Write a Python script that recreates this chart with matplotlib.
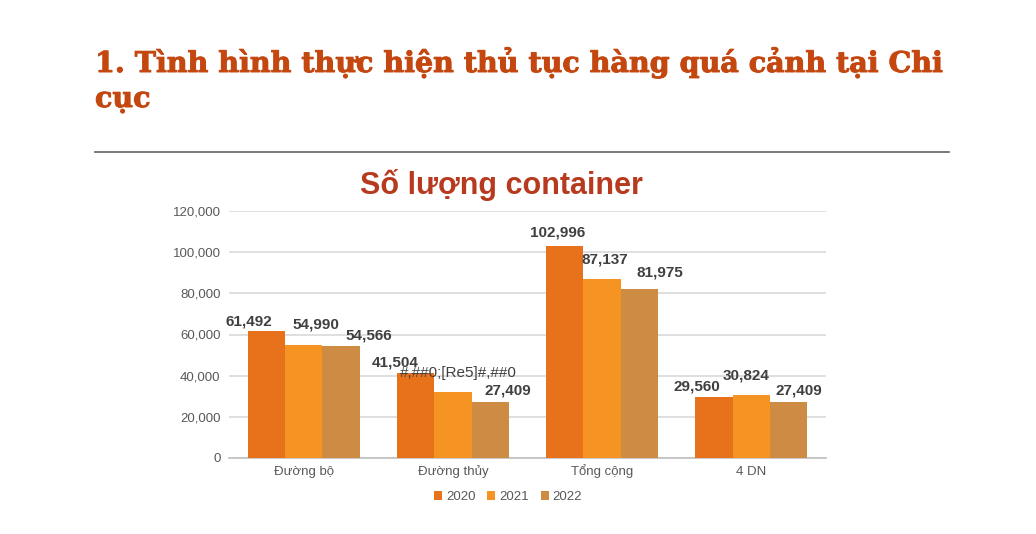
import matplotlib
matplotlib.use("Agg")
import matplotlib.pyplot as plt
from matplotlib.patches import Patch
from matplotlib.ticker import FuncFormatter
import matplotlib.patheffects as pe
import numpy as np

# ---- data ----
categories = ["Đường bộ", "Đường thủy", "Tổng cộng", "4 DN"]
years = ["2020", "2021", "2022"]
values_2020 = [61492, 41504, 102996, 29560]
values_2021 = [54990, 31900, 87137, 30824]
values_2022 = [54566, 27409, 81975, 27409]
labels_2020 = ["61,492", "41,504", "102,996", "29,560"]
labels_2021 = ["54,990", "#,##0;[Re5]#,##0", "87,137", "30,824"]
labels_2022 = ["54,566", "27,409", "81,975", "27,409"]
y_ticks = [0, 20000, 40000, 60000, 80000, 100000, 120000]

heading_line1 = "1. Tình hình thực hiện thủ tục hàng quá cảnh tại Chi"
heading_line2 = "cục"
chart_title = "Số lượng container"

# ---- style ----
colors = ["#E8711B", "#F59422", "#CD8B43"]
# label offsets in pixels (dx, dy above bar top) - manual placements as in the reference
label_offsets = [
    [(-17, 3), (12, 13), (28, 3)],
    [(-20, 3), (5, 12), (18, 4)],
    [(-7, 6), (3, 12), (20, 10)],
    [(-17, 4), (-5, 12), (10, 4)],
]

W, H = 1036, 534
fig = plt.figure(figsize=(W / 100, H / 100), dpi=100)
fig.patch.set_facecolor("white")

def fx(px):
    return px / W

def fy(py):
    return 1 - py / H

# heading
heading_color = "#C4470F"
heavy = [pe.Stroke(linewidth=0.7, foreground=heading_color), pe.Normal()]
t1 = fig.text(fx(95), fy(72), heading_line1, fontsize=20, fontweight="bold",
              family="DejaVu Serif", color=heading_color, va="baseline", ha="left")
fig.canvas.draw()
r = fig.canvas.get_renderer()
bb = t1.get_window_extent(r)
scale = 849 / bb.width
fs_head = 20 * scale
t1.set_fontsize(fs_head)
t1.set_path_effects(heavy)
fig.text(fx(95), fy(107), heading_line2, fontsize=fs_head, fontweight="bold",
         family="DejaVu Serif", color=heading_color, va="baseline", ha="left",
         path_effects=heavy)

# rule line
fig.add_artist(plt.Line2D([fx(95), fx(949)], [fy(151.5), fy(151.5)],
                          color="#6E6E6E", lw=1.3, transform=fig.transFigure))

# chart title
fig.text(fx(501.5), fy(194), chart_title, fontsize=22, fontweight="bold",
         family="Liberation Sans", color="#B83A1E", ha="center", va="baseline")

# axes
ax = fig.add_axes([fx(229), fy(458), fx(826) - fx(229), fy(211) - fy(458)])
x = np.arange(len(categories))
bw = 0.25
series = [values_2020, values_2021, values_2022]
labels = [labels_2020, labels_2021, labels_2022]
for i, (vals, col) in enumerate(zip(series, colors)):
    pos = x + (i - 1) * bw
    ax.bar(pos, vals, width=bw, color=col, zorder=3, edgecolor="none")
    for j, (p, v, lab) in enumerate(zip(pos, vals, labels[i])):
        dx, dy = label_offsets[j][i]
        is_fmt = lab.startswith("#")
        ax.annotate(lab, (p, v), xytext=(dx, dy), textcoords="offset pixels",
                    ha="center", va="bottom", fontsize=11,
                    fontweight="normal" if is_fmt else "bold",
                    family="Liberation Sans", color="#404040", zorder=5)

ax.set_xlim(-0.5, len(categories) - 0.5)
ax.set_ylim(0, 120000)
ax.set_yticks(y_ticks)
ax.yaxis.set_major_formatter(FuncFormatter(lambda v, _: f"{int(v):,}"))
ax.set_xticks(x)
ax.set_xticklabels(categories, va="baseline")
for lab in ax.get_yticklabels():
    lab.set_family("Liberation Sans")
    lab.set_fontsize(9.5)
    lab.set_color("#595959")
for lab in ax.get_xticklabels():
    lab.set_family("Liberation Sans")
    lab.set_fontsize(9.5)
    lab.set_color("#595959")
ax.tick_params(axis="both", length=0)
ax.tick_params(axis="y", pad=6)
ax.tick_params(axis="x", pad=12)
ax.grid(axis="y", color="#D9D9D9", lw=1.2, zorder=0)
for s in ["top", "right", "left"]:
    ax.spines[s].set_visible(False)
ax.spines["bottom"].set_color("#BFBFBF")
ax.spines["bottom"].set_linewidth(1.2)
ax.set_facecolor("white")

handles = [Patch(facecolor=c, edgecolor="none") for c in colors]
leg = fig.legend(handles, years, loc="center", bbox_to_anchor=(fx(508), fy(497)),
                 ncol=3, frameon=False, handlelength=0.6, handleheight=0.6,
                 handletextpad=0.3, columnspacing=0.9,
                 prop={"family": "Liberation Sans", "size": 9.5})
for t in leg.get_texts():
    t.set_color("#595959")

fig.savefig("out.png", dpi=100, facecolor="white")
